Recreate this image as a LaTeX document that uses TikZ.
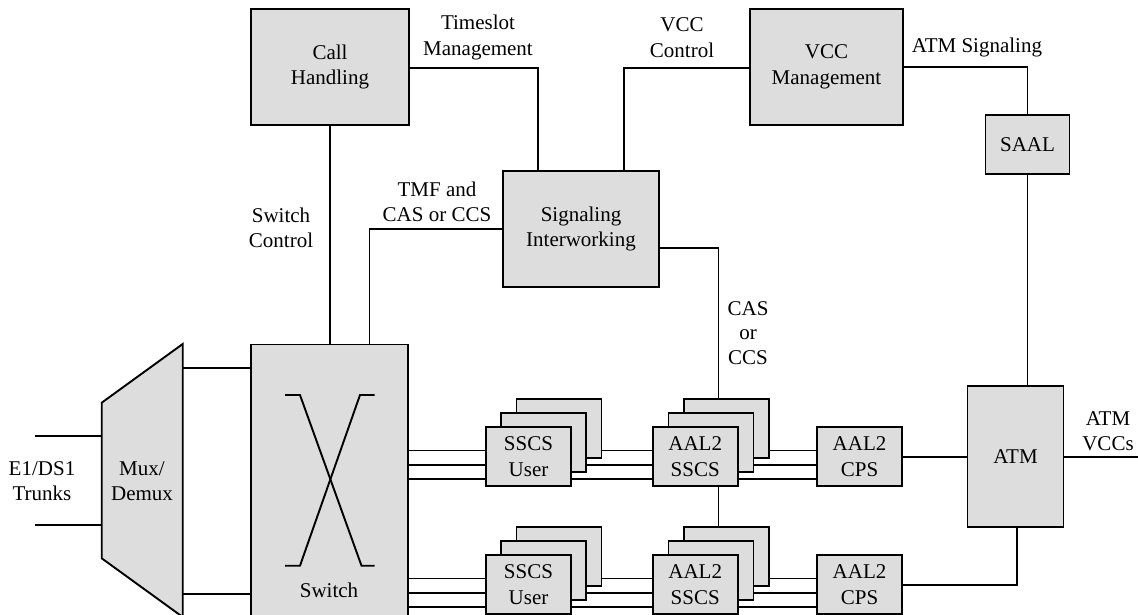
\documentclass[tikz,border=0pt]{standalone}
\usepackage{fontspec}
\setmainfont{Liberation Serif}
\usetikzlibrary{calc}
\definecolor{boxfill}{RGB}{221,221,221}
\tikzset{
  x=1pt, y=-1pt,
  line/.style={line width=1.9pt, line cap=butt},
  blk/.style={draw, line width=1.9pt, fill=boxfill, rectangle, inner sep=0pt, align=center,
              font=\fontsize{21}{25.5}\selectfont},
  small/.style={blk, minimum width=85pt, minimum height=59pt},
  lbl/.style={align=center, inner sep=0pt, font=\fontsize{21}{25.5}\selectfont},
}
\begin{document}
\begin{tikzpicture}
\useasboundingbox (0,0) rectangle (1138,615);
\clip (0,0) rectangle (1138,615);

% top blocks
\node[blk, minimum width=158pt, minimum height=116pt] (ch) at (330,67) {Call\\Handling};
\node[blk, minimum width=156pt, minimum height=116pt] (si) at (581,229) {Signaling\\Interworking};
\node[blk, minimum width=153pt, minimum height=116pt] (vm) at (826.5,67) {VCC\\Management};
\node[blk, minimum width=84pt, minimum height=59pt] (saal) at (1027.5,144.5) {SAAL};
\node[blk, minimum width=96pt, minimum height=141pt] (atm) at (1015.5,456.5) {ATM};

% switch
\node[blk, minimum width=157pt, minimum height=300pt, anchor=north] (sw) at (329.5,343.5) {};
\node[lbl] (swl) at (329,590) {Switch};
\draw[line] (285,395) -- (300,395) -- (361.5,565.7) -- (374.5,565.7);
\draw[line] (374.5,395) -- (360,395) -- (300,565.7) -- (285,565.7);

% mux
\draw[line, fill=boxfill, line join=miter] (101.7,402.7) -- (182.7,344) -- (182.7,617) -- (101.7,558.3) -- cycle;
\node[lbl] (mux) at (142,481) {Mux/\\Demux};
\coordinate (muxR) at (182.7,480.5);
\coordinate (muxL) at (101.7,480.5);
\node[lbl] (trunks) at (42,481) {E1/DS1\\Trunks};
\coordinate (t1) at (35,436);
\coordinate (t2) at (35,525);
\draw[line] (t1) -- (t1 -| muxL);
\draw[line] (t2) -- (t2 -| muxL);
\draw[line] (muxR |- 0,367.7) -- (sw.west |- 0,367.7);
\draw[line] (muxR |- 0,594.3) -- (sw.west |- 0,594.3);

% stacks: rows at offset 0 and 128
\foreach \r/\dy in {1/0,2/128}{
  \node[small] (su\r c) at (559,{428.5+\dy}) {};
  \node[small] (su\r b) at (543.5,{442.3+\dy}) {};
  \node[small] (su\r a) at (528.5,{456.7+\dy}) {SSCS\\User};
  \node[small] (as\r c) at (726.5,{428.5+\dy}) {};
  \node[small] (as\r b) at (711,{442.3+\dy}) {};
  \node[small] (as\r a) at (695.2,{456.7+\dy}) {AAL2\\SSCS};
  \node[small] (cps\r) at (859.5,{456.7+\dy}) {AAL2\\CPS};
  \coordinate (y\r a) at (0,{450.5+\dy});
  \coordinate (y\r b) at (0,{465.3+\dy});
  \coordinate (y\r c) at (0,{479.3+\dy});
  \draw[line] (sw.east |- y\r a) -- (su\r a.west |- y\r a);
  \draw[line] (sw.east |- y\r b) -- (su\r a.west |- y\r b);
  \draw[line] (sw.east |- y\r c) -- (su\r a.west |- y\r c);
  \draw[line] (su\r c.east |- y\r a) -- (as\r a.west |- y\r a);
  \draw[line] (su\r b.east |- y\r b) -- (as\r a.west |- y\r b);
  \draw[line] (su\r a.east |- y\r c) -- (as\r a.west |- y\r c);
  \draw[line] (as\r c.east |- y\r a) -- (cps\r.west |- y\r a);
  \draw[line] (as\r b.east |- y\r b) -- (cps\r.west |- y\r b);
  \draw[line] (as\r a.east |- y\r c) -- (cps\r.west |- y\r c);
}

% connectors
\coordinate (casx) at (718.5,0);
\draw[line] ($(si.east)+(0,19)$) -| (casx |- as1c.north);
\draw[line] (casx |- as1a.south) -- (casx |- as2c.north);
\draw[line] (ch.east |- 0,68) -| ($(si.north west)!0.23!(si.north east)$);
\draw[line] (vm.west |- 0,68) -| ($(si.north west)!0.77!(si.north east)$);
\draw[line] (vm.east |- 0,66.7) -| (saal.north);
\draw[line] (saal.south) -- (saal.south |- atm.north);
\draw[line] (ch.south) -- (ch.south |- sw.north);
\draw[line] (si.west) -| ($(sw.north)+(40,0)$);
\draw[line] (cps1.east) -- (cps1.east -| atm.west);
\coordinate (vccend) at (1140,457);
\draw[line] (atm.east |- vccend) -- (vccend);
\draw[line] (cps2.east) -| ($(atm.south)+(1.5,0)$);

% labels
\node[lbl] (lts) at (478,37.5) {Timeslot\\Management};
\node[lbl] (lvcc) at (682,37.5) {VCC\\Control};
\node[lbl] (latms) at (977,47) {ATM Signaling};
\node[lbl] (lswc) at (281,228) {Switch\\Control};
\node[lbl] (ltmf) at (437,202) {TMF and\\CAS or CCS};
\node[lbl, font=\fontsize{21}{24.5}\selectfont] (lcas) at (748,333) {CAS\\or\\CCS};
\node[lbl] (lvccs) at (1108,431) {ATM\\VCCs};
\end{tikzpicture}
\end{document}
